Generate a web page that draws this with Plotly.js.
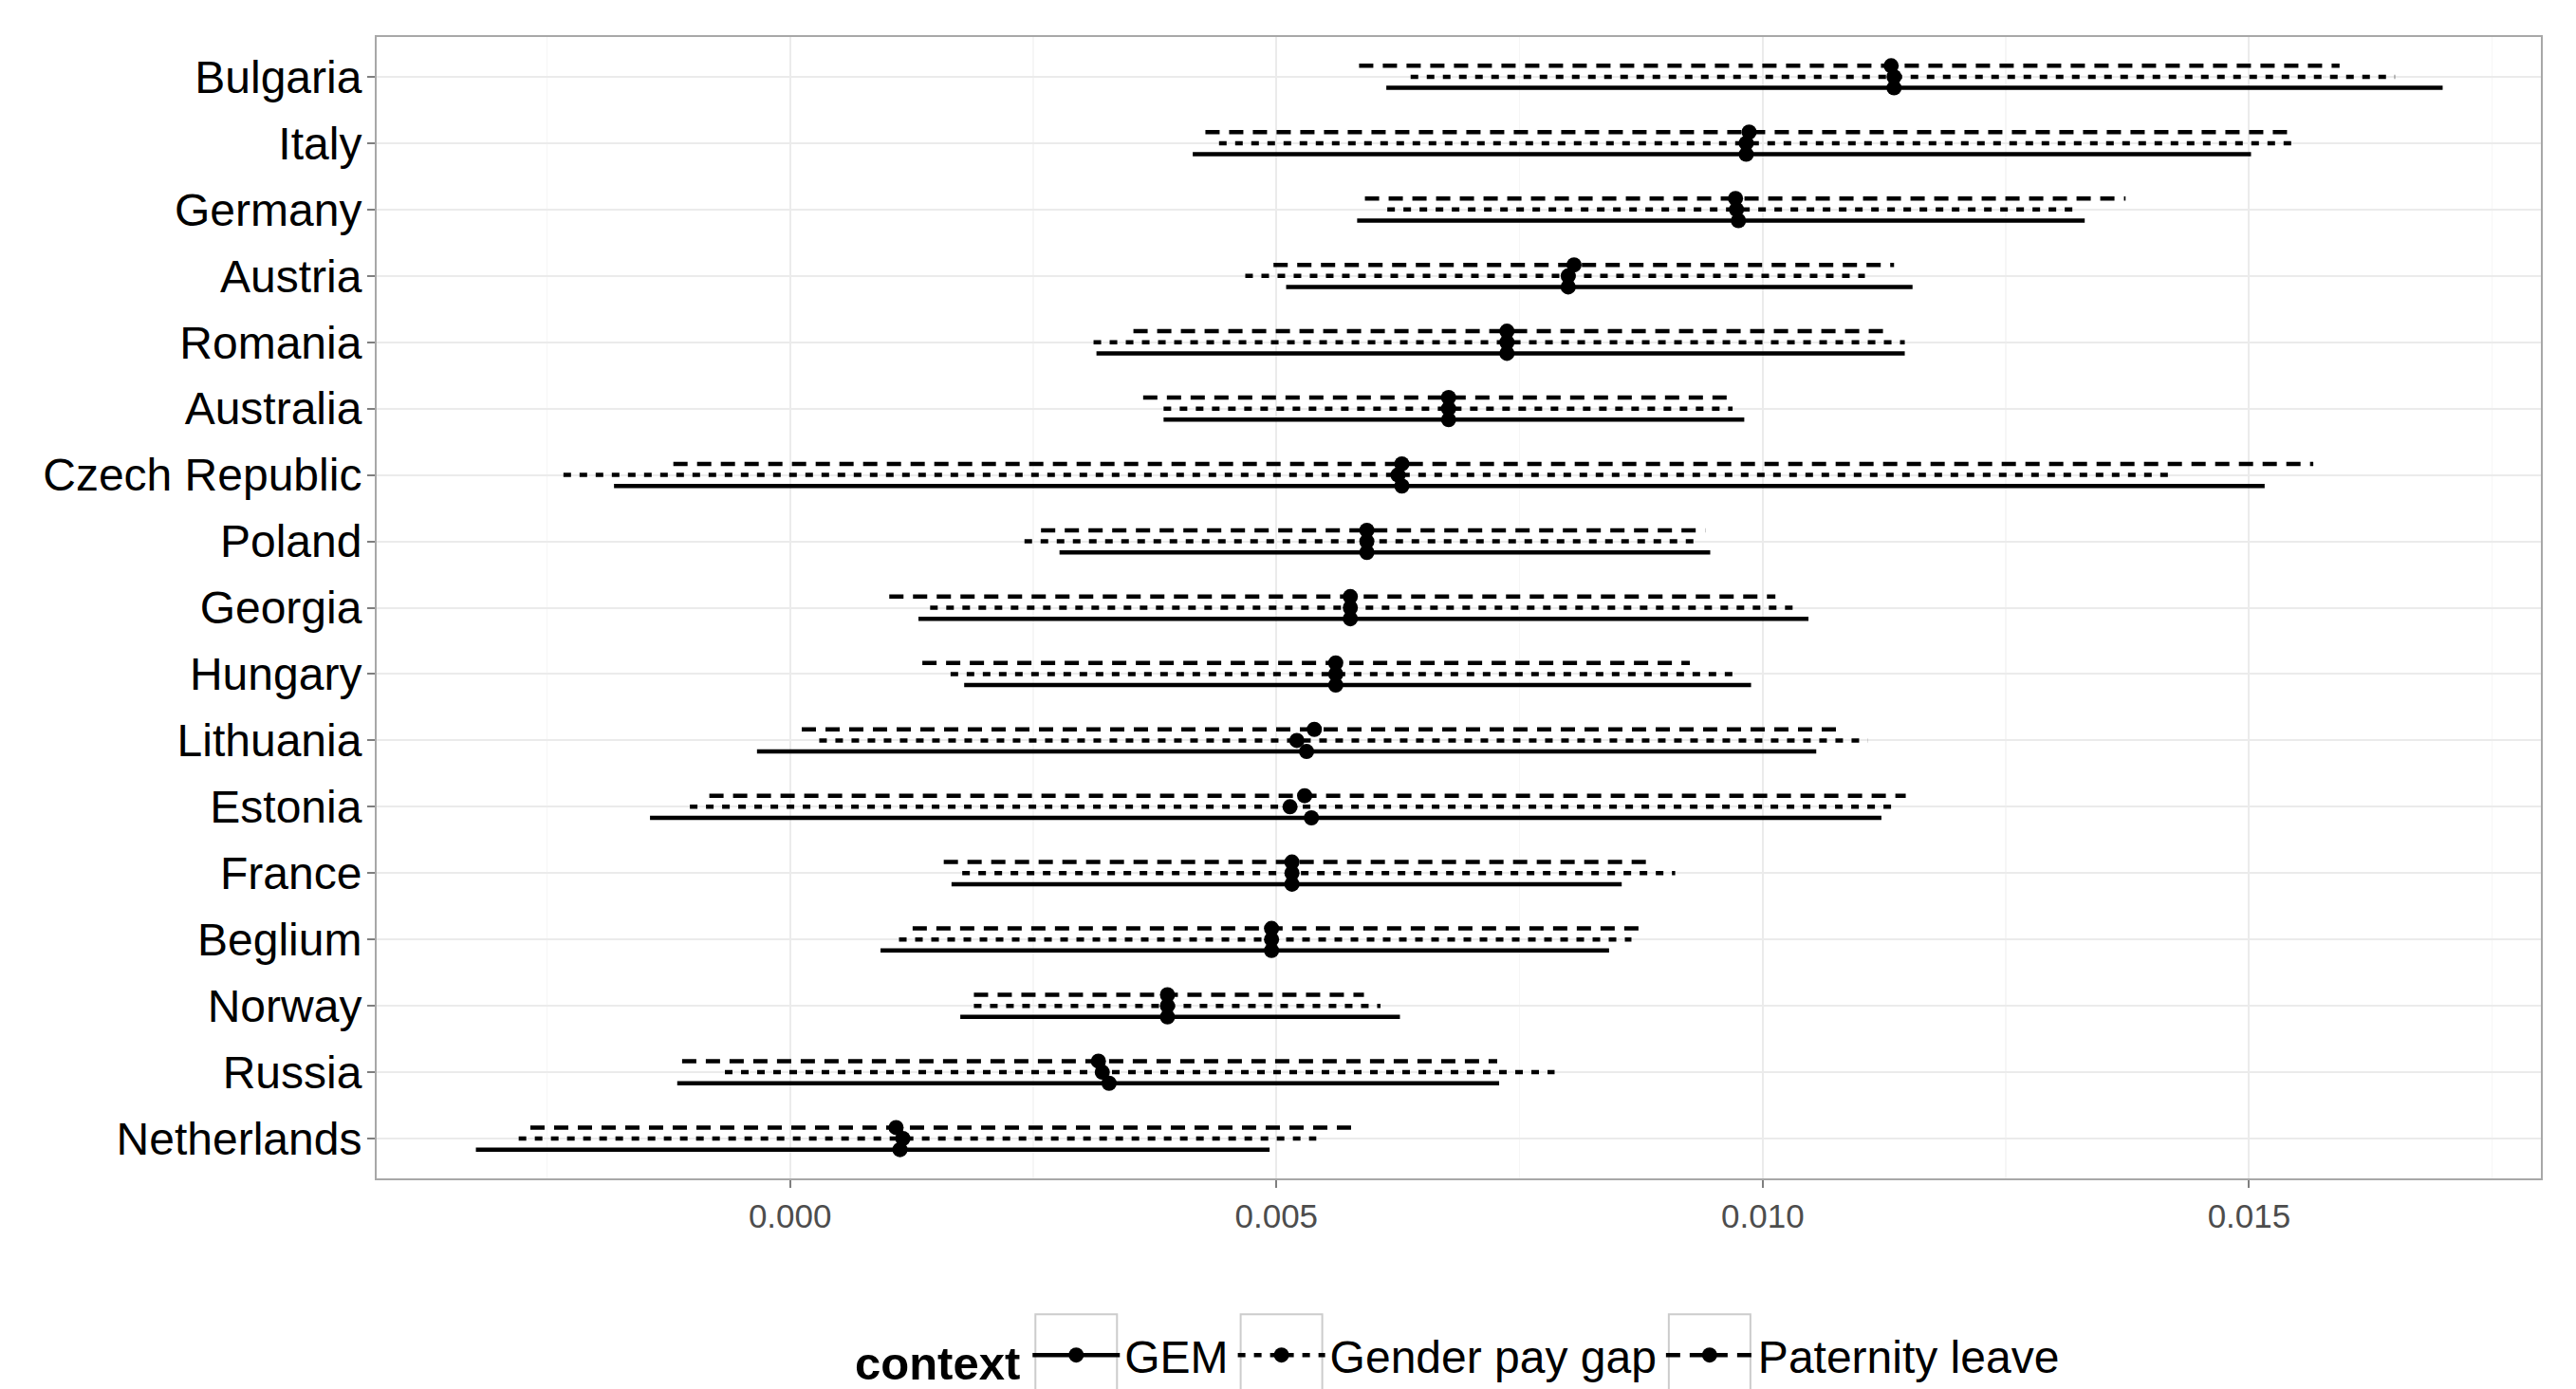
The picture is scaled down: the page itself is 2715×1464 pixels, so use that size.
<!DOCTYPE html>
<html>
<head>
<meta charset="utf-8">
<script src="https://cdn.plot.ly/plotly-3.0.1.min.js"></script>
<style>html,body{margin:0;padding:0;background:#fff;}#chart{width:2715px;height:1464px;}</style>
</head>
<body>
<div id="chart"></div>
<script>
// Countries, top to bottom
const countries = ["Bulgaria","Italy","Germany","Austria","Romania","Australia","Czech Republic","Poland","Georgia","Hungary","Lithuania","Estonia","France","Beglium","Norway","Russia","Netherlands"];

// GEM (solid)
const gemEst = [0.01135,0.00983,0.00975,0.00800,0.00737,0.00677,0.00629,0.00593,0.00576,0.00561,0.00531,0.00536,0.00516,0.00495,0.00388,0.00328,0.00113];
const gemLo  = [0.00613,0.00414,0.00583,0.00510,0.00315,0.00384,-0.00181,0.00277,0.00132,0.00179,-0.00034,-0.00144,0.00166,0.00093,0.00175,-0.00116,-0.00323];
const gemHi  = [0.01699,0.01502,0.01331,0.01154,0.01146,0.00981,0.01516,0.00946,0.01047,0.00988,0.01055,0.01122,0.00855,0.00842,0.00627,0.00729,0.00493];

// Gender pay gap (dotted)
const gpgEst = [0.01135,0.00983,0.00973,0.00800,0.00737,0.00677,0.00625,0.00593,0.00576,0.00561,0.00521,0.00514,0.00516,0.00495,0.00388,0.00321,0.00116];
const gpgLo  = [0.00638,0.00441,0.00614,0.00468,0.00312,0.00384,-0.00233,0.00241,0.00144,0.00165,0.00030,-0.00103,0.00177,0.00112,0.00189,-0.00067,-0.00279];
const gpgHi  = [0.01650,0.01544,0.01321,0.01105,0.01146,0.00969,0.01417,0.00929,0.01032,0.00969,0.01108,0.01132,0.00910,0.00865,0.00607,0.00786,0.00541];

// Paternity leave (dashed)
const plEst = [0.01132,0.00986,0.00972,0.00806,0.00737,0.00677,0.00629,0.00593,0.00576,0.00561,0.00539,0.00529,0.00516,0.00495,0.00388,0.00317,0.00109];
const plLo  = [0.00585,0.00427,0.00591,0.00497,0.00353,0.00363,-0.00120,0.00258,0.00102,0.00136,0.00012,-0.00083,0.00158,0.00126,0.00189,-0.00111,-0.00267];
const plHi  = [0.01593,0.01544,0.01373,0.01135,0.01131,0.00969,0.01566,0.00941,0.01013,0.00925,0.01084,0.01147,0.00886,0.00881,0.00590,0.00727,0.00583];

const xTicks = [0.000, 0.005, 0.010, 0.015];

const n = countries.length;
const pos = countries.map((c, i) => n - 1 - i);
const dodge = 0.5 / 3;

const groups = [
  {name: "GEM", est: gemEst, lo: gemLo, hi: gemHi, off: -dodge, dash: "solid"},
  {name: "Gender pay gap", est: gpgEst, lo: gpgLo, hi: gpgHi, off: 0, dash: "8px,9px"},
  {name: "Paternity leave", est: plEst, lo: plLo, hi: plHi, off: dodge, dash: "15px,10px"}
];

const LW = 4.5;
const traces = [];
groups.forEach(g => {
  const xs = [], ys = [];
  for (let i = 0; i < n; i++) {
    xs.push(g.lo[i], g.hi[i], null);
    ys.push(pos[i] + g.off, pos[i] + g.off, null);
  }
  traces.push({
    type: "scatter", mode: "lines", x: xs, y: ys,
    line: {color: "#000", width: LW, dash: g.dash},
    showlegend: false, hoverinfo: "skip", legendgroup: g.name
  });
});
groups.forEach(g => {
  const xs = [], ys = [];
  for (let i = 0; i < n; i++) {
    xs.push(g.est[i], null);
    ys.push(pos[i] + g.off, null);
  }
  traces.push({
    type: "scatter", mode: "lines+markers", x: xs, y: ys, name: g.name,
    connectgaps: false,
    line: {color: "#000", width: LW, dash: g.dash},
    marker: {color: "#000", size: 16},
    legendgroup: g.name, hoverinfo: "skip"
  });
});

const font = "Liberation Sans, Arial, Helvetica, sans-serif";
const layout = {
  width: 2715, height: 1464,
  paper_bgcolor: "#fff", plot_bgcolor: "#fff",
  margin: {l: 397, r: 37, t: 39, b: 222, pad: 0, autoexpand: false},
  font: {family: font, color: "#000"},
  showlegend: true,
  legend: {
    orientation: "h", x: 0.5, xanchor: "center", y: -0.155, yanchor: "middle",
    font: {family: font, size: 48, color: "#000"},
    title: {text: "<b>context</b>", side: "left", font: {family: font, size: 49, color: "#000"}},
    itemwidth: 92, traceorder: "normal", bgcolor: "rgba(0,0,0,0)"
  },
  xaxis: {
    range: [-0.00425, 0.0180],
    tickvals: xTicks, tickformat: ".3f",
    tickfont: {family: font, size: 35, color: "#4d4d4d"},
    ticks: "outside", ticklen: 8, tickwidth: 2, tickcolor: "#7f7f7f",
    showgrid: true, gridcolor: "#ebebeb", gridwidth: 2,
    minor: {dtick: 0.0025, tick0: 0, showgrid: true, gridcolor: "#f6f6f6", gridwidth: 1.5, ticks: ""},
    zeroline: false, showline: true, mirror: true, linecolor: "#a8a8a8", linewidth: 2
  },
  yaxis: {
    range: [-0.6, n - 1 + 0.6],
    tickvals: pos, ticktext: countries,
    tickfont: {family: font, size: 48, color: "#000"},
    ticks: "outside", ticklen: 8, tickwidth: 2, tickcolor: "#7f7f7f",
    ticklabelstandoff: -4,
    showgrid: true, gridcolor: "#ebebeb", gridwidth: 2,
    zeroline: false, showline: true, mirror: true, linecolor: "#a8a8a8", linewidth: 2
  }
};

Plotly.newPlot("chart", traces, layout, {staticPlot: true, displayModeBar: false}).then(gd => {
  // draw ggplot-style key boxes around each legend symbol, placed from the legend's own layout
  const sz = gd._fullLayout._size;
  const root = gd.getBoundingClientRect();
  const half = 43;
  const shapes = [];
  gd.querySelectorAll(".legend .traces").forEach(tr => {
    const sym = tr.querySelector(".legendsymbols") || tr;
    const r = sym.getBoundingClientRect();
    if (!r.width) return;
    const cx = r.left + r.width / 2 - root.left;
    const cy = r.top + r.height / 2 - root.top;
    shapes.push({
      type: "rect", xref: "paper", yref: "paper", layer: "below",
      x0: (cx - half - sz.l) / sz.w, x1: (cx + half - sz.l) / sz.w,
      y0: 1 - (cy + half - sz.t) / sz.h, y1: 1 - (cy - half - sz.t) / sz.h,
      line: {color: "#cccccc", width: 2}, fillcolor: "rgba(0,0,0,0)"
    });
  });
  return Plotly.relayout(gd, {shapes: shapes});
});
</script>
</body>
</html>
